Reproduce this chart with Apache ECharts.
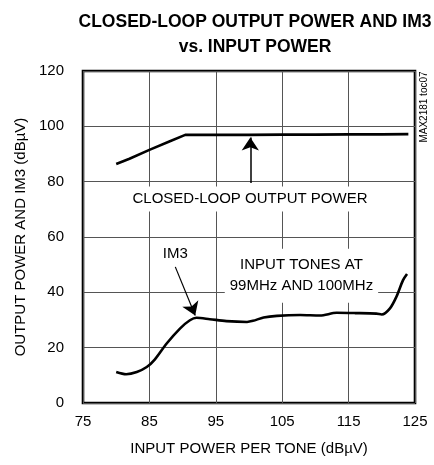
<!DOCTYPE html>
<html>
<head>
<meta charset="utf-8">
<script src="https://cdn.jsdelivr.net/npm/echarts@6/dist/echarts.min.js"></script>
<style>html,body{margin:0;padding:0;background:#fff}#c{width:434px;height:465px}</style>
</head>
<body>
<div id="c"></div>
<script>
const xTicks = [75, 85, 95, 105, 115, 125];
const yTicks = [0, 20, 40, 60, 80, 100, 120];
const powerX = [80, 82, 85, 88, 90.4, 95, 100, 105, 110, 115, 120, 124];
const powerY = [86.4, 88.3, 91.5, 94.5, 96.9, 96.9, 96.9, 97.0, 97.0, 97.1, 97.1, 97.2];
const im3X = [80, 81.5, 83.1, 84.6, 85.8, 87.6, 89.6, 91.1, 92.1, 94.1, 96.6, 99.7, 100.6, 102.2, 104.2, 107.7, 110.7, 113.2, 116, 119.2, 120.0, 121.2, 122.2, 123.2, 123.8];
const im3Y = [11.2, 10.4, 11.2, 13.0, 15.7, 21.5, 26.9, 29.9, 30.8, 30.3, 29.6, 29.3, 29.7, 30.9, 31.5, 31.8, 31.6, 32.6, 32.5, 32.3, 32.0, 34.1, 38.4, 44.4, 46.6];

const FONT = "'Liberation Sans',Arial,sans-serif";
const chart = echarts.init(document.getElementById('c'), null, {renderer: 'canvas'});
const pair = (xs, ys) => xs.map((x, i) => [x, ys[i]]);

chart.setOption({
  animation: false,
  backgroundColor: '#fff',
  title: {
    text: 'CLOSED-LOOP OUTPUT POWER AND IM3\nvs. INPUT POWER',
    left: 250, top: 5, textAlign: 'center',
    textStyle: {fontFamily: FONT, fontWeight: 'bold', fontSize: 17.5, lineHeight: 25, color: '#000'}
  },
  grid: {left: 83, right: 19, top: 71, bottom: 62, show: true, borderColor: '#000', borderWidth: 2.6, backgroundColor: 'transparent'},
  xAxis: {
    type: 'value', min: xTicks[0], max: xTicks[xTicks.length - 1], interval: 10,
    name: 'INPUT POWER PER TONE (dBµV)', nameLocation: 'middle', nameGap: 38,
    nameTextStyle: {fontFamily: FONT, fontSize: 15, color: '#000'},
    axisLine: {show: false}, axisTick: {show: false},
    axisLabel: {fontFamily: FONT, fontSize: 15, color: '#000', margin: 11},
    splitLine: {show: true, lineStyle: {color: '#555', width: 1}}
  },
  yAxis: {
    type: 'value', min: yTicks[0], max: yTicks[yTicks.length - 1], interval: 20,
    name: 'OUTPUT POWER AND IM3 (dBµV)', nameLocation: 'middle', nameGap: 52,
    nameTextStyle: {fontFamily: FONT, fontSize: 15, color: '#000'},
    axisLine: {show: false}, axisTick: {show: false},
    axisLabel: {fontFamily: FONT, fontSize: 15, color: '#000', margin: 19},
    splitLine: {show: true, lineStyle: {color: '#555', width: 1}}
  },
  series: [
    {
      type: 'line', data: pair(powerX, powerY), showSymbol: false, symbol: 'none',
      lineStyle: {color: '#000', width: 2.6}, z: 5,
      markLine: {
        silent: true, symbol: ['none', 'arrow'], symbolSize: 13,
        lineStyle: {color: '#000', width: 1.5, type: 'solid'}, label: {show: false},
        data: [[{coord: [100.2, 79.5]}, {coord: [100.2, 96.0]}]]
      }
    },
    {
      type: 'line', data: pair(im3X, im3Y), smooth: 0.3, showSymbol: false, symbol: 'none',
      lineStyle: {color: '#000', width: 2.6}, z: 5,
      markLine: {
        silent: true, symbol: ['none', 'arrow'], symbolSize: 13,
        lineStyle: {color: '#000', width: 1.2, type: 'solid'}, label: {show: false},
        data: [[{coord: [88.9, 49.2]}, {coord: [91.9, 31.6]}]]
      }
    }
  ]
});

function P(x, y) { return chart.convertToPixel({gridIndex: 0}, [x, y]); }
const p1 = P(100.15, 73.7), p2 = P(107.9, 46.0), p3 = P(88.9, 53.8);
chart.setOption({
  graphic: [
    {type: 'text', z: 100, x: p1[0], y: p1[1], silent: true,
     style: {text: 'CLOSED-LOOP OUTPUT POWER', font: '15px ' + FONT, fill: '#000', align: 'center', verticalAlign: 'middle', backgroundColor: '#fff', padding: [5, 3]}},
    {type: 'text', z: 100, x: p2[0], y: p2[1], silent: true,
     style: {text: 'INPUT TONES AT\n99MHz AND 100MHz', font: '15px ' + FONT, lineHeight: 21, fill: '#000', align: 'center', verticalAlign: 'middle', backgroundColor: '#fff', padding: [6, 5]}},
    {type: 'text', z: 100, x: p3[0], y: p3[1], silent: true,
     style: {text: 'IM3', font: '15px ' + FONT, fill: '#000', align: 'center', verticalAlign: 'middle'}},
    {type: 'text', z: 100, x: 424, y: 107, rotation: Math.PI / 2, silent: true,
     style: {text: 'MAX2181 toc07', font: '10px ' + FONT, fill: '#000', align: 'center', verticalAlign: 'middle'}}
  ]
});
</script>
</body>
</html>
